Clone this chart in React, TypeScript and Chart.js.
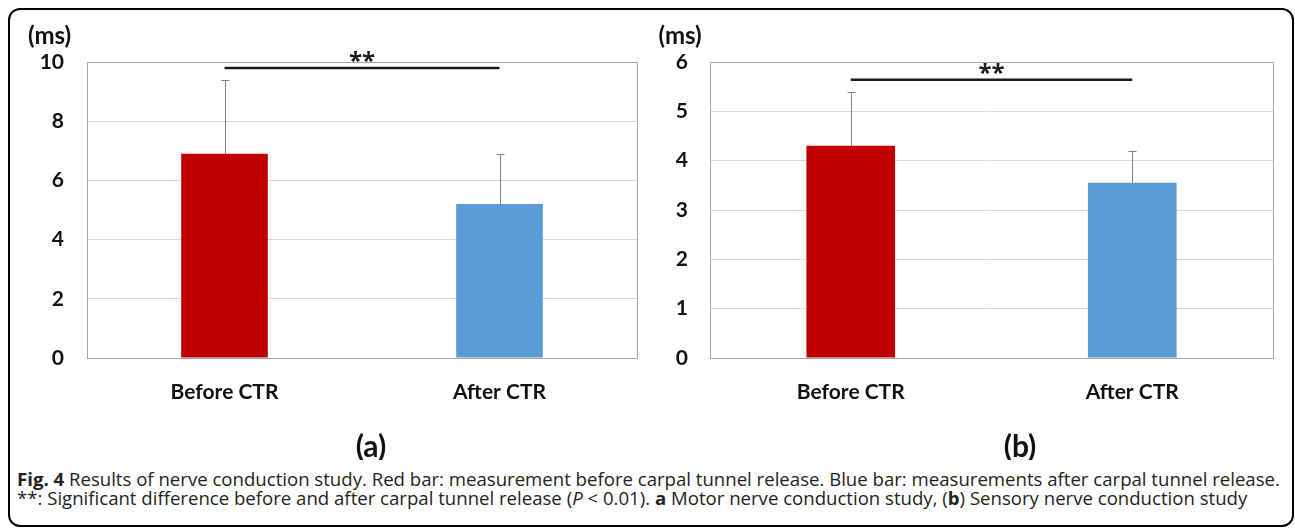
import React, { useEffect, useRef } from "react";
import { Chart, registerables } from "chart.js";

Chart.register(...registerables);

// ---- data ----
const categories = ["Before CTR", "After CTR"];
const motorMeans = [6.9, 5.2];
const motorSD = [2.5, 1.7];
const motorMax = 10;
const motorStep = 2;
const motorSigLevel = 9.8;

const sensoryMeans = [4.3, 3.55];
const sensorySD = [1.1, 0.65];
const sensoryMax = 6;
const sensoryStep = 1;
const sensorySigLevel = 5.64;

const barColors = ["#C00000", "#5B9BD5"];
const sigMark = "**";
const unitLabel = "(ms)";
const panelLabels = ["(a)", "(b)"];

const FONT = "Lato, 'Open Sans', sans-serif";

type PanelProps = {
  means: number[];
  sd: number[];
  max: number;
  step: number;
  sig: number;
  panelLabel: string;
  left: number;
  width: number;
  axisWidth: number;
  padRight: number;
  tickPad: number;
  unitX: number;
  labelX: number;
};

const CANVAS_TOP = 10;
const CANVAS_H = 450;
const AREA_TOP = 52;
const AREA_BOTTOM = 348;

function Panel(p: PanelProps) {
  const ref = useRef<HTMLCanvasElement | null>(null);
  useEffect(() => {
    if (!ref.current) return;
    const overlay = {
      id: "overlay",
      afterDatasetsDraw(chart: any) {
        const { ctx, chartArea, scales } = chart;
        const meta = chart.getDatasetMeta(0);
        ctx.save();
        // error bars (+SD)
        ctx.strokeStyle = "#808080";
        ctx.lineWidth = 1;
        meta.data.forEach((bar: any, i: number) => {
          const x = Math.round(bar.x) + 0.5;
          const y0 = scales.y.getPixelForValue(p.means[i]);
          const y1 = Math.round(scales.y.getPixelForValue(p.means[i] + p.sd[i])) + 0.5;
          ctx.beginPath();
          ctx.moveTo(x, y0);
          ctx.lineTo(x, y1);
          ctx.moveTo(x - 4, y1);
          ctx.lineTo(x + 4, y1);
          ctx.stroke();
        });
        // plot border
        ctx.strokeStyle = "#A6A6A6";
        ctx.lineWidth = 1;
        ctx.strokeRect(
          Math.round(chartArea.left) + 0.5,
          Math.round(chartArea.top) + 0.5,
          Math.round(chartArea.right - chartArea.left),
          Math.round(chartArea.bottom - chartArea.top)
        );
        // significance line
        const xa = scales.x.getPixelForValue(0);
        const xb = scales.x.getPixelForValue(1);
        const ys = scales.y.getPixelForValue(p.sig);
        ctx.fillStyle = "#1a1a1a";
        ctx.font = `bold 24px 'Open Sans', sans-serif`;
        ctx.textAlign = "center";
        ctx.textBaseline = "alphabetic";
        ctx.fillText(sigMark, (xa + xb) / 2, ys + 1);
        ctx.strokeStyle = "#1a1a1a";
        ctx.lineWidth = 2.5;
        ctx.beginPath();
        ctx.moveTo(xa, ys);
        ctx.lineTo(xb, ys);
        ctx.stroke();
        // unit label
        ctx.fillStyle = "#111";
        ctx.font = `bold 24px ${FONT}`;
        ctx.textBaseline = "middle";
        ctx.fillText(unitLabel, p.unitX, 26);
        // panel label
        ctx.font = `bold 30px ${FONT}`;
        ctx.fillText(p.panelLabel, p.labelX, 437);
        ctx.restore();
      },
    };
    const chart = new Chart(ref.current, {
      type: "bar",
      data: {
        labels: categories,
        datasets: [
          {
            data: p.means,
            backgroundColor: barColors,
            borderWidth: 0,
            barPercentage: 0.315,
            categoryPercentage: 1,
          },
        ],
      },
      options: {
        animation: false,
        responsive: false,
        maintainAspectRatio: false,
        layout: { padding: { left: 0, right: p.padRight, top: AREA_TOP, bottom: 0 } },
        plugins: { legend: { display: false }, tooltip: { enabled: false } },
        scales: {
          x: {
            grid: { display: false, drawTicks: false },
            border: { display: false },
            ticks: {
              color: "#111",
              padding: 22,
              font: { family: FONT, size: 21, weight: "bold" },
            },
            afterFit: (s: any) => {
              s.height = CANVAS_H - AREA_BOTTOM;
            },
          },
          y: {
            min: 0,
            max: p.max,
            ticks: {
              stepSize: p.step,
              color: "#111",
              padding: p.tickPad,
              font: { family: FONT, size: 21, weight: "bold" },
            },
            grid: { color: "#D9D9D9", drawTicks: false, lineWidth: 1 },
            border: { display: false },
            afterFit: (s: any) => {
              s.width = p.axisWidth;
            },
          },
        },
      },
      plugins: [overlay],
    } as any);
    return () => chart.destroy();
  }, []);
  return (
    <canvas
      ref={ref}
      width={p.width}
      height={CANVAS_H}
      style={{ position: "absolute", left: p.left, top: CANVAS_TOP, width: p.width, height: CANVAS_H }}
    />
  );
}

export default function App() {
  return (
    <div style={{ position: "absolute", left: 0, top: 0, width: 1295, height: 530, background: "#fff" }}>
      <div
        style={{
          position: "absolute",
          left: 8,
          top: 8,
          width: 1286,
          height: 519,
          border: "2px solid #000",
          borderRadius: 12,
          boxSizing: "border-box",
        }}
      />
      <Panel
        means={motorMeans}
        sd={motorSD}
        max={motorMax}
        step={motorStep}
        sig={motorSigLevel}
        panelLabel={panelLabels[0]}
        left={10}
        width={630}
        axisWidth={77}
        padRight={3}
        tickPad={23}
        unitX={39.5}
        labelX={361}
      />
      <Panel
        means={sensoryMeans}
        sd={sensorySD}
        max={sensoryMax}
        step={sensoryStep}
        sig={sensorySigLevel}
        panelLabel={panelLabels[1]}
        left={645}
        width={640}
        axisWidth={65}
        padRight={12}
        tickPad={22}
        unitX={35}
        labelX={375}
      />
      <div
        style={{
          position: "absolute",
          left: 17,
          top: 469,
          fontFamily: "'Open Sans', sans-serif",
          fontSize: 18.6,
          lineHeight: "19px",
          color: "#231f20",
          whiteSpace: "nowrap",
        }}
      >
        <div>
          <b>Fig. 4</b> Results of nerve conduction study. Red bar: measurement before carpal tunnel release. Blue bar:
          measurements after carpal tunnel release.
        </div>
        <div>
          **: Significant difference before and after carpal tunnel release (<i>P</i> &lt; 0.01). <b>a</b> Motor nerve
          conduction study, (<b>b</b>) Sensory nerve conduction study
        </div>
      </div>
    </div>
  );
}
